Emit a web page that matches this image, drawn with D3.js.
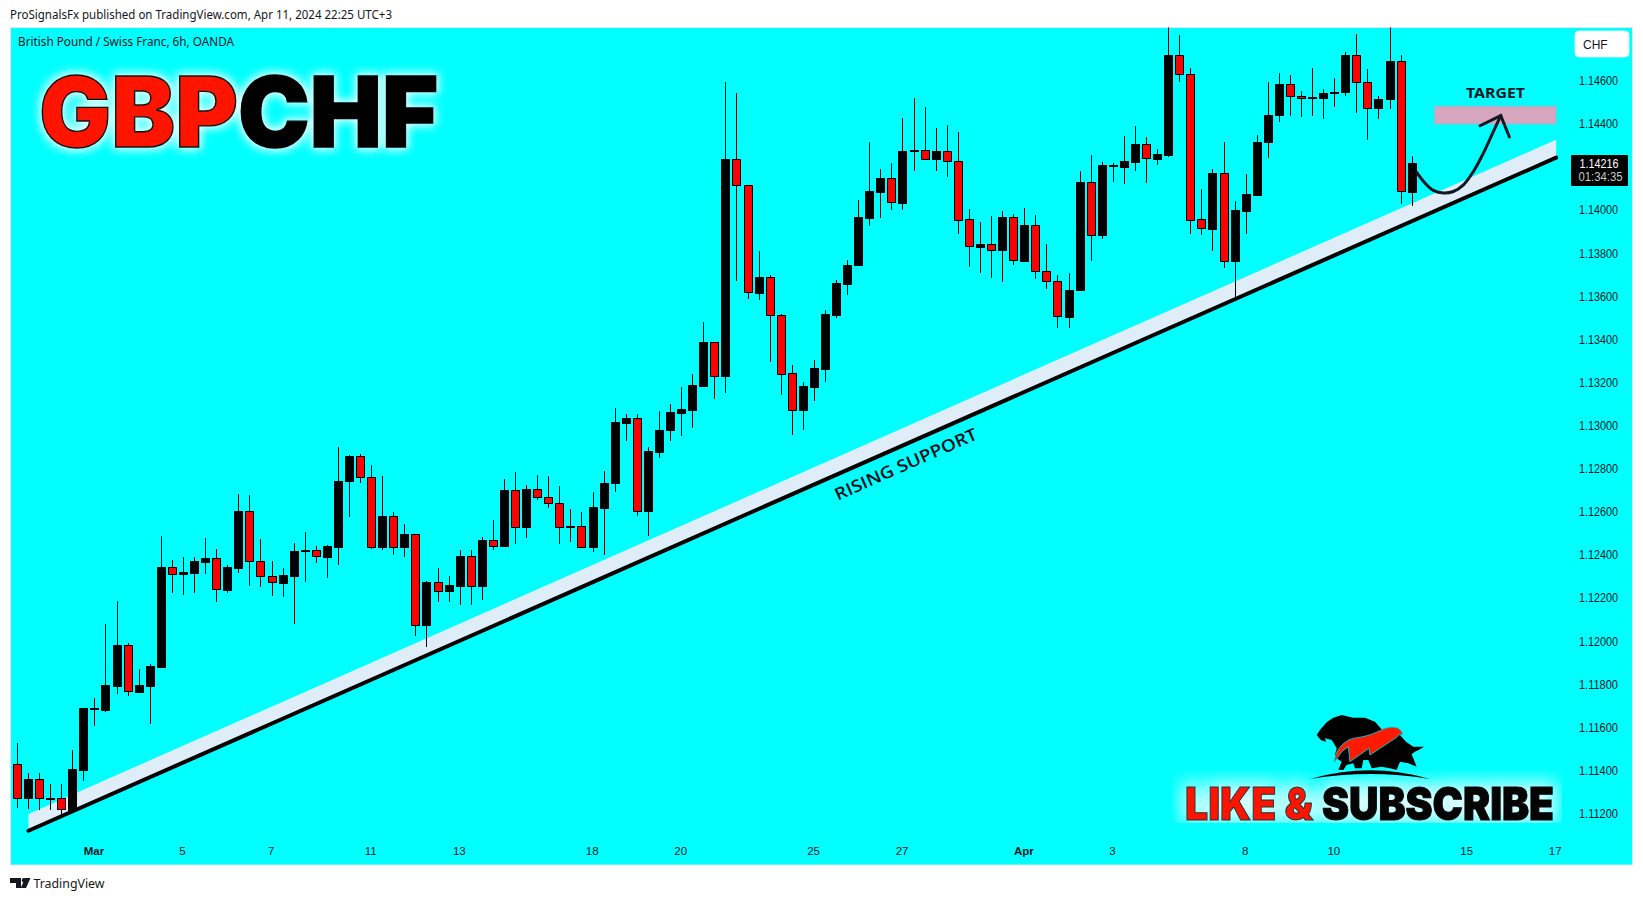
<!DOCTYPE html>
<html><head><meta charset="utf-8">
<script src="https://d3js.org/d3.v7.min.js"></script>
<style>html,body{margin:0;padding:0;background:#fff}svg{display:block}</style>
</head><body><div id="chart"></div>
<script>
const opens=[1.11429,1.11274,1.11359,1.11268,1.11271,1.11217,1.11404,1.11685,1.11682,1.11794,1.11982,1.11766,1.11794,1.11882,1.12343,1.12313,1.12318,1.12369,1.12385,1.12239,1.12341,1.12603,1.12371,1.12301,1.12272,1.12304,1.12419,1.12422,1.12392,1.12439,1.12741,1.12860,1.12761,1.12439,1.12580,1.12439,1.12497,1.12073,1.12274,1.12235,1.12258,1.12395,1.12258,1.12469,1.12444,1.12701,1.12528,1.12705,1.12668,1.12640,1.12531,1.12534,1.12439,1.12620,1.12732,1.13013,1.13035,1.12602,1.12880,1.12978,1.13060,1.13074,1.13186,1.13387,1.13228,1.14236,1.14115,1.13617,1.13688,1.13512,1.13243,1.13074,1.13181,1.13265,1.13515,1.13659,1.13743,1.13965,1.14086,1.14148,1.14035,1.14277,1.14278,1.14239,1.14273,1.14227,1.13958,1.13830,1.13842,1.13817,1.13967,1.13765,1.13930,1.13717,1.13670,1.13506,1.13627,1.14130,1.13882,1.14207,1.14201,1.14224,1.14306,1.14238,1.14257,1.14719,1.14631,1.13958,1.13913,1.14172,1.13762,1.13997,1.14072,1.14314,1.14439,1.14584,1.14529,1.14519,1.14521,1.14546,1.14546,1.14719,1.14594,1.14472,1.14513,1.14691,1.14086];
const closes=[1.11275,1.11361,1.11271,1.11271,1.11220,1.11407,1.11690,1.11688,1.11797,1.11982,1.11767,1.11797,1.11885,1.12344,1.12313,1.12320,1.12372,1.12386,1.12241,1.12344,1.12604,1.12371,1.12301,1.12273,1.12306,1.12419,1.12422,1.12394,1.12442,1.12743,1.12860,1.12760,1.12439,1.12582,1.12439,1.12498,1.12073,1.12275,1.12235,1.12262,1.12396,1.12258,1.12470,1.12444,1.12702,1.12528,1.12707,1.12667,1.12639,1.12532,1.12534,1.12439,1.12623,1.12735,1.13018,1.13036,1.12602,1.12883,1.12981,1.13064,1.13078,1.13189,1.13387,1.13229,1.14238,1.14114,1.13619,1.13690,1.13511,1.13241,1.13074,1.13184,1.13268,1.13517,1.13662,1.13746,1.13968,1.14089,1.14149,1.14037,1.14275,1.14278,1.14239,1.14273,1.14227,1.13956,1.13832,1.13844,1.13817,1.13967,1.13768,1.13932,1.13717,1.13669,1.13508,1.13630,1.14131,1.13882,1.14210,1.14209,1.14229,1.14308,1.14240,1.14261,1.14721,1.14629,1.13956,1.13915,1.14173,1.13762,1.14001,1.14076,1.14317,1.14442,1.14586,1.14527,1.14519,1.14524,1.14544,1.14549,1.14721,1.14594,1.14473,1.14515,1.14693,1.14088,1.14218];
const highs=[1.11526,1.11391,1.11387,1.11337,1.11340,1.11495,1.11692,1.11735,1.12080,1.12187,1.11990,1.11871,1.11894,1.12488,1.12377,1.12391,1.12391,1.12479,1.12428,1.12352,1.12683,1.12678,1.12474,1.12372,1.12340,1.12456,1.12507,1.12442,1.12445,1.12902,1.12865,1.12868,1.12818,1.12767,1.12600,1.12545,1.12497,1.12280,1.12340,1.12303,1.12424,1.12424,1.12484,1.12563,1.12753,1.12786,1.12726,1.12772,1.12767,1.12721,1.12614,1.12600,1.12693,1.12791,1.13083,1.13055,1.13055,1.12902,1.13069,1.13101,1.13180,1.13240,1.13481,1.13387,1.14593,1.14544,1.14115,1.13811,1.13699,1.13518,1.13282,1.13203,1.13305,1.13537,1.13676,1.13769,1.14047,1.14316,1.14191,1.14219,1.14426,1.14521,1.14479,1.14381,1.14395,1.14363,1.14006,1.13946,1.13973,1.13997,1.13981,1.14011,1.13978,1.13844,1.13698,1.13709,1.14182,1.14257,1.14224,1.14218,1.14345,1.14391,1.14340,1.14284,1.14890,1.14813,1.14660,1.14099,1.14192,1.14317,1.14043,1.14168,1.14349,1.14595,1.14637,1.14628,1.14554,1.14660,1.14561,1.14614,1.14735,1.14818,1.14656,1.14530,1.14880,1.14721,1.14252];
const lows=[1.11227,1.11223,1.11218,1.11218,1.11197,1.11209,1.11353,1.11608,1.11673,1.11757,1.11747,1.11764,1.11617,1.11880,1.12225,1.12216,1.12225,1.12313,1.12183,1.12225,1.12318,1.12258,1.12253,1.12211,1.12207,1.12081,1.12276,1.12364,1.12295,1.12355,1.12574,1.12732,1.12430,1.12421,1.12398,1.12393,1.12022,1.11975,1.12184,1.12180,1.12166,1.12170,1.12189,1.12421,1.12444,1.12449,1.12481,1.12653,1.12620,1.12453,1.12458,1.12435,1.12416,1.12398,1.12690,1.12927,1.12579,1.12486,1.12852,1.12931,1.12954,1.12991,1.13181,1.13125,1.13153,1.13673,1.13589,1.13585,1.13297,1.13144,1.12958,1.12982,1.13116,1.13204,1.13501,1.13608,1.13743,1.13924,1.13965,1.14002,1.13998,1.14183,1.14235,1.14183,1.14151,1.13891,1.13738,1.13706,1.13687,1.13664,1.13743,1.13765,1.13681,1.13636,1.13455,1.13451,1.13627,1.13766,1.13868,1.14128,1.14119,1.14179,1.14124,1.14207,1.14244,1.14592,1.13887,1.13882,1.13808,1.13729,1.13593,1.13887,1.14072,1.14240,1.14407,1.14438,1.14430,1.14434,1.14424,1.14479,1.14527,1.14448,1.14323,1.14421,1.14470,1.14026,1.14021];
const priceTicks=[1.112,1.114,1.116,1.118,1.12,1.122,1.124,1.126,1.128,1.13,1.132,1.134,1.136,1.138,1.14,1.144,1.146];
const dateTickIdx=[7,15,23,32,40,52,60,72,80,91,99,111,119,131,139];
const dateTickLabels=["Mar","5","7","11","13","18","20","25","27","Apr","3","8","10","15","17"];
const lastPrice=1.14216, countdown="01:34:35";
const trendIdx=[1,139], trendLine=[1.11121,1.14243], trendBandTop=[1.11199,1.14326];
const targetIdx=[128,139], targetPrice=[1.14399,1.14482];
const curveIdx=[126.41,127.16,127.92,128.82,129.72,130.63,131.53,132.43,133.34,134.0];
const curvePrice=[1.14175,1.14125,1.14091,1.14079,1.14086,1.14117,1.14179,1.14264,1.14365,1.14438];
const headIdx=[132.13,134.0,134.78], headPrice=[1.14391,1.14438,1.14339];

const W=1643,H=901, pane={l:10.5,t:27.5,r:1632.5,b:865};
const x=d3.scaleLinear().domain([0,126]).range([17.4,1412.2]);
const y=d3.scaleLinear().domain([1.112,1.146]).range([813.7,80.7]);
const svg=d3.select("#chart").append("svg").attr("width",W).attr("height",H);
const defs=svg.append("defs");
defs.append("clipPath").attr("id","pane").append("rect").attr("x",pane.l).attr("y",pane.t).attr("width",pane.r-pane.l).attr("height",pane.b-pane.t);
function glow(id,box,dil,std,slope){
  const f=defs.append("filter").attr("id",id).attr("filterUnits","userSpaceOnUse")
    .attr("x",box[0]).attr("y",box[1]).attr("width",box[2]).attr("height",box[3]).attr("color-interpolation-filters","sRGB");
  f.append("feMorphology").attr("in","SourceAlpha").attr("operator","dilate").attr("radius",dil).attr("result","d");
  f.append("feGaussianBlur").attr("in","d").attr("stdDeviation",std).attr("result","b");
  f.append("feFlood").attr("flood-color","#fff").attr("result","w");
  f.append("feComposite").attr("in","w").attr("in2","b").attr("operator","in").attr("result","g");
  const ct=f.append("feComponentTransfer").attr("in","g").attr("result","g2");
  ct.append("feFuncA").attr("type","linear").attr("slope",slope);
  const m=f.append("feMerge");
  m.append("feMergeNode").attr("in","g2");
  m.append("feMergeNode").attr("in","SourceGraphic");
}
glow("glowLogo",[10,40,470,140],2,5,.95);
glow("glowSub",[1172,770,390,53],4,9,.85);

svg.append("rect").attr("width",W).attr("height",H).attr("fill","#fff");
svg.append("rect").attr("x",pane.l).attr("y",pane.t).attr("width",pane.r-pane.l).attr("height",pane.b-pane.t).attr("fill","#00ffff").attr("stroke","#dbe6ea").attr("stroke-width",1);

const uiFont="'Noto Sans','Liberation Sans',sans-serif";
svg.append("text").attr("x",10).attr("y",19).attr("font-family",uiFont).attr("font-size",12).attr("fill","#131722").attr("textLength",382).attr("lengthAdjust","spacingAndGlyphs").text("ProSignalsFx published on TradingView.com, Apr 11, 2024 22:25 UTC+3");
svg.append("text").attr("x",18).attr("y",46).attr("font-family",uiFont).attr("font-size",12).attr("fill","#131722").attr("textLength",216).attr("lengthAdjust","spacingAndGlyphs").text("British Pound / Swiss Franc, 6h, OANDA");

// trend band
const bandArea=d3.area().x((d,i)=>x(trendIdx[i])).y0((d,i)=>y(trendLine[i])).y1((d,i)=>y(trendBandTop[i]));
svg.append("path").attr("d",bandArea(trendIdx)).attr("fill","#dfedf8");

// candles
const candles=opens.map((o,i)=>({i,o,c:closes[i],h:highs[i],l:lows[i]}));
const cg=svg.append("g").attr("clip-path","url(#pane)");
const cx=d=>Math.floor(x(d.i))+0.5;
cg.selectAll("line.w").data(candles).join("line").attr("class","w").attr("x1",cx).attr("x2",cx)
  .attr("y1",d=>y(d.h)).attr("y2",d=>y(d.l)).attr("stroke","#000").attr("stroke-width",1).attr("shape-rendering","crispEdges");
cg.selectAll("rect.b").data(candles).join("rect").attr("class","b")
  .attr("x",d=>cx(d)-4).attr("width",8)
  .attr("y",d=>Math.round(y(Math.max(d.o,d.c)))+0.5)
  .attr("height",d=>Math.max(Math.round(y(Math.min(d.o,d.c)))-Math.round(y(Math.max(d.o,d.c))),1))
  .attr("fill",d=>d.c>=d.o?"#000":"#ff0000").attr("stroke","#000").attr("stroke-width",1).attr("shape-rendering","crispEdges");

// trend line on top
svg.append("line").attr("x1",x(trendIdx[0])).attr("y1",y(trendLine[0])).attr("x2",x(trendIdx[1])).attr("y2",y(trendLine[1]))
  .attr("stroke","#000").attr("stroke-width",4).attr("stroke-linecap","round");
const ang=Math.atan2(y(trendLine[1])-y(trendLine[0]),x(trendIdx[1])-x(trendIdx[0]))*180/Math.PI;
svg.append("text").attr("transform",`translate(${x(80.25)},${y(1.12822)}) rotate(${ang})`).attr("text-anchor","middle").attr("dy","0.36em")
  .attr("font-family","'Open Sans',sans-serif").attr("font-weight",600).attr("font-size",17).attr("fill","#0a0f1c").attr("textLength",154).attr("lengthAdjust","spacingAndGlyphs").text("RISING SUPPORT");

// target
svg.append("rect").attr("x",x(targetIdx[0])).attr("y",y(targetPrice[1])).attr("width",x(targetIdx[1])-x(targetIdx[0])).attr("height",y(targetPrice[0])-y(targetPrice[1]))
  .attr("fill","#d5a6bd").attr("stroke","#7fc3dc").attr("stroke-width",1);
svg.append("text").attr("x",x(133.52)).attr("y",y(1.14542)).attr("dy","0.36em").attr("text-anchor","middle").attr("font-family","'Noto Sans',sans-serif").attr("font-weight",700).attr("font-size",14).attr("fill","#131722").attr("textLength",59).attr("lengthAdjust","spacingAndGlyphs").text("TARGET");
const curve=d3.line().x(d=>x(d[0])).y(d=>y(d[1])).curve(d3.curveCatmullRom);
svg.append("path").attr("d",curve(curveIdx.map((v,i)=>[v,curvePrice[i]]))).attr("fill","none").attr("stroke","#131722").attr("stroke-width",3).attr("stroke-linecap","round");
svg.append("path").attr("d",d3.line().x(d=>x(d[0])).y(d=>y(d[1]))(headIdx.map((v,i)=>[v,headPrice[i]]))).attr("fill","none").attr("stroke","#131722").attr("stroke-width",3).attr("stroke-linecap","round").attr("stroke-linejoin","miter");

// axes
const yAxis=d3.axisRight(y).tickValues(priceTicks).tickSize(0).tickPadding(0).tickFormat(d3.format(".5f"));
const ya=svg.append("g").attr("transform","translate(1579,0)").call(yAxis);
ya.select(".domain").remove();
ya.selectAll("text").attr("font-family","'Liberation Sans',sans-serif").attr("font-size",12).attr("fill","#131722").attr("textLength",39).attr("lengthAdjust","spacingAndGlyphs");
const xAxis=d3.axisBottom(x).tickValues(dateTickIdx).tickSize(0).tickPadding(0).tickFormat((d,i)=>dateTickLabels[i]);
const xa=svg.append("g").attr("transform","translate(-1.4,846.5)").call(xAxis);
xa.select(".domain").remove();
xa.selectAll("text").attr("font-family","'Liberation Sans',sans-serif").attr("font-size",11.5).attr("fill","#131722")
  .attr("font-weight",(d,i)=>/[A-Za-z]/.test(dateTickLabels[i])?700:400);

// CHF box + price tag
svg.append("rect").attr("x",1575).attr("y",31).attr("width",54).attr("height",26).attr("rx",4).attr("fill","#fff").attr("stroke","#cfeef2");
svg.append("text").attr("x",1583).attr("y",48.5).attr("font-family","'Liberation Sans',sans-serif").attr("font-size",12).attr("fill","#131722").text("CHF");
svg.append("rect").attr("x",1571).attr("y",155).attr("width",57).attr("height",31).attr("rx",1).attr("fill","#000");
svg.append("text").attr("x",1579.5).attr("y",y(lastPrice)).attr("dy","0.36em").attr("font-family","'Liberation Sans',sans-serif").attr("font-size",12).attr("fill","#fff").attr("textLength",39).attr("lengthAdjust","spacingAndGlyphs").text(d3.format(".5f")(lastPrice));
svg.append("text").attr("x",1578.5).attr("y",181.2).attr("font-family","'Liberation Sans',sans-serif").attr("font-size",12).attr("fill","#c9c9c9").attr("textLength",44).attr("lengthAdjust","spacingAndGlyphs").text(countdown);

// GBPCHF logo
const logo=svg.append("g").attr("font-family","Inter,sans-serif").attr("font-weight",900).attr("font-size",97).attr("filter","url(#glowLogo)");
const lg=(t,xx,w,fill,stroke)=>{
  logo.append("text").attr("x",xx).attr("y",146.5).attr("textLength",w).attr("lengthAdjust","spacingAndGlyphs").attr("fill",fill).attr("stroke",stroke).attr("stroke-width",1.4).text(t);
};
lg("GBP",39,199,"#ff1400","#111");
lg("CHF",238,200,"#000","#000");

// like & subscribe
const sub=svg.append("g").attr("font-family","Inter,sans-serif").attr("font-weight",900).attr("font-size",45).attr("filter","url(#glowSub)");
sub.append("text").attr("x",1185).attr("y",819.5).attr("textLength",128).attr("lengthAdjust","spacingAndGlyphs").attr("fill","#ff1400").attr("stroke","#12353a").attr("stroke-width",1).text("LIKE &");
sub.append("text").attr("x",1322).attr("y",819.5).attr("textLength",232).attr("lengthAdjust","spacingAndGlyphs").attr("fill","#050505").attr("stroke","#050505").attr("stroke-width",1).text("SUBSCRIBE");

// bear / bull emblem
const em=svg.append("g").attr("transform","translate(1300,705) scale(0.3333)");
em.append("path").attr("fill","#000").attr("d","M50,90L62,72L80,52L100,38L125,30L160,38L195,38L225,50L247,75L300,90L318,110L340,125L372,125L360,133L345,140L335,148L350,185L325,175L300,170L290,195L270,190L245,185L215,190L205,165L190,165L185,190L165,190L160,175L140,180L130,195L115,195L125,170L110,160L105,150L110,130L95,105L75,100L78,110L62,105Z");
em.append("path").attr("fill","#000").attr("d","M30,222Q210,170 390,222Q210,192 30,222Z");
em.append("path").attr("fill","#ff1a00").attr("stroke","#19b5c4").attr("stroke-width",3).attr("d","M103,172C105,140 125,110 160,100C200,95 225,85 250,72C270,65 295,62 305,80L308,88L295,90L290,97L210,150L207,130L150,170L145,125L125,140Z");

// footer
svg.append("path").attr("fill","#131722").attr("d","M10,878H21V888H16V883H10ZM30.5,878L26,888H20.7L25.2,878Z");
svg.append("circle").attr("cx",24).attr("cy",880.2).attr("r",2.2).attr("fill","#131722");
svg.append("text").attr("x",33.5).attr("y",888).attr("font-family",uiFont).attr("font-size",13).attr("fill","#131722").attr("textLength",71).attr("lengthAdjust","spacingAndGlyphs").text("TradingView");
</script></body></html>
